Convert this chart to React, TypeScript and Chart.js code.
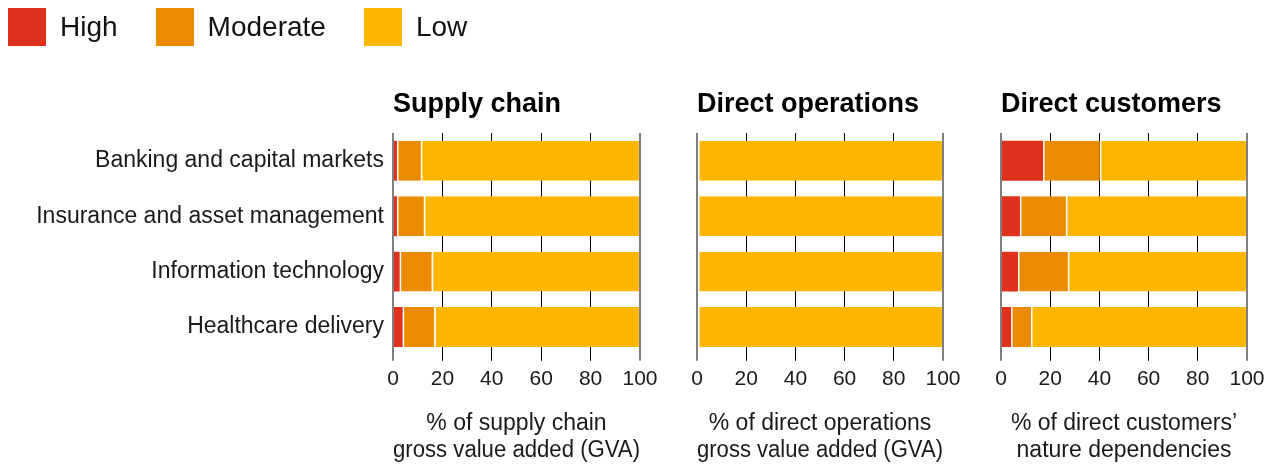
import React, { useEffect, useRef } from 'react';
import { Chart, registerables } from 'chart.js';

Chart.register(...registerables);

// ---- Data ----
const categories = [
  'Banking and capital markets',
  'Insurance and asset management',
  'Information technology',
  'Healthcare delivery',
];
const seriesNames = ['High', 'Moderate', 'Low'];
const seriesColors = ['#E0301E', '#EB8C00', '#FFB600'];

const supplyHigh = [1.6, 1.6, 2.7, 3.9];
const supplyModerate = [9.7, 10.9, 13.0, 12.8];
const supplyLow = [88.7, 87.5, 84.3, 83.3];

const opsHigh = [0, 0, 0, 0];
const opsModerate = [0, 0, 0, 0];
const opsLow = [100, 100, 100, 100];

const custHigh = [17.1, 7.7, 6.9, 4.1];
const custModerate = [23.1, 18.7, 20.3, 8.1];
const custLow = [59.8, 73.6, 72.8, 87.8];

const panelTitles = ['Supply chain', 'Direct operations', 'Direct customers'];
const axisTitles = [
  ['% of supply chain', 'gross value added (GVA)'],
  ['% of direct operations', 'gross value added (GVA)'],
  ['% of direct customers\u2019', 'nature dependencies'],
];
const xMin = 0;
const xMax = 100;
const xStep = 20;

const panelSeries = [
  [supplyHigh, supplyModerate, supplyLow],
  [opsHigh, opsModerate, opsLow],
  [custHigh, custModerate, custLow],
];

// ---- Layout (styles only) ----
const FONT = '"Liberation Sans", Arial, Helvetica, sans-serif';
const panelLayout = [
  { left: 0, width: 660, padLeft: 0, padRight: 20, showY: true, yWidth: 393 },
  { left: 660, width: 310, padLeft: 37, padRight: 27, showY: false, yWidth: 0 },
  { left: 970, width: 300, padLeft: 31, padRight: 23, showY: false, yWidth: 0 },
];
const H = 464;

function isEdge(ctx: any) {
  const v = ctx && ctx.tick ? ctx.tick.value : null;
  return v === xMin || v === xMax;
}

function Panel({ index }: { index: number }) {
  const ref = useRef<HTMLCanvasElement | null>(null);
  const lay = panelLayout[index];
  useEffect(() => {
    if (!ref.current) return;
    const series = panelSeries[index];
    const chart = new Chart(ref.current, {
      type: 'bar',
      data: {
        labels: categories,
        datasets: series.map((vals, i) => ({
          label: seriesNames[i],
          data: vals,
          backgroundColor: seriesColors[i],
          borderColor: '#ffffff',
          borderWidth: i === 0 ? 0 : { left: 1.5, right: 0, top: 0, bottom: 0 },
          borderSkipped: false,
          barPercentage: 0.72,
          categoryPercentage: 1,
          xAxisID: 'x',
          yAxisID: 'y',
        })),
      },
      options: {
        indexAxis: 'y',
        responsive: false,
        animation: false,
        devicePixelRatio: 1,
        events: [],
        layout: { padding: { left: lay.padLeft, right: lay.padRight, top: 0, bottom: 0 } },
        plugins: {
          legend: { display: false },
          tooltip: { enabled: false },
          title: {
            display: true,
            text: panelTitles[index],
            align: 'start',
            fullSize: false,
            color: '#000000',
            font: { family: FONT, size: 27, weight: 'bold', lineHeight: 1.2 },
            padding: { top: 88, bottom: 12.6 },
          },
        },
        scales: {
          y: {
            stacked: true,
            display: lay.showY,
            grid: { display: false, drawTicks: false },
            border: { display: false },
            ticks: { font: { family: FONT, size: 23 }, color: '#1a1a1a', padding: 9 },
            afterFit: lay.showY
              ? (s: any) => {
                  s.width = lay.yWidth;
                }
              : undefined,
          },
          x: {
            stacked: true,
            min: xMin,
            max: xMax,
            afterFit: (s: any) => {
              s.paddingLeft = 0;
              s.paddingRight = 0;
            },
            ticks: {
              stepSize: xStep,
              font: { family: FONT, size: 21 },
              color: '#1a1a1a',
              padding: 6,
            },
            grid: {
              z: 1,
              color: (ctx: any) => (isEdge(ctx) ? '#808080' : 'rgba(0,0,0,0)'),
              tickColor: (ctx: any) => (isEdge(ctx) ? '#808080' : '#000000'),
              lineWidth: (ctx: any) => (isEdge(ctx) ? 2 : 1),
              tickLength: 6,
            },
            border: { display: false },
            title: {
              display: true,
              text: axisTitles[index],
              color: '#1a1a1a',
              font: { family: FONT, size: 23, lineHeight: 1.174 },
              padding: { top: 12, bottom: 0 },
            },
          },
          x2: {
            type: 'linear',
            position: 'bottom',
            min: xMin,
            max: xMax,
            ticks: { display: false, stepSize: xStep },
            grid: {
              z: -1,
              drawTicks: false,
              color: (ctx: any) => (isEdge(ctx) ? 'rgba(0,0,0,0)' : '#000000'),
              lineWidth: 1,
            },
            border: { display: false },
          },
        },
      } as any,
    });
    return () => chart.destroy();
  }, [index]);
  return (
    <canvas
      ref={ref}
      width={lay.width}
      height={H}
      style={{ position: 'absolute', left: lay.left, top: 0, width: lay.width, height: H, display: 'block' }}
    />
  );
}

export default function App() {
  return (
    <div
      style={{
        position: 'absolute',
        left: 0,
        top: 0,
        width: 1270,
        height: H,
        overflow: 'hidden',
        background: '#ffffff',
        fontFamily: FONT,
      }}
    >
      {panelTitles.map((_, i) => (
        <Panel key={i} index={i} />
      ))}
      <div style={{ position: 'absolute', left: 8, top: 8, display: 'flex', gap: 38, zIndex: 2 }}>
        {seriesNames.map((name, i) => (
          <div key={name} style={{ display: 'flex', alignItems: 'center' }}>
            <div style={{ width: 38, height: 38, background: seriesColors[i], marginRight: 14 }} />
            <span style={{ fontSize: 28, lineHeight: '38px', color: '#111111' }}>{name}</span>
          </div>
        ))}
      </div>
    </div>
  );
}
